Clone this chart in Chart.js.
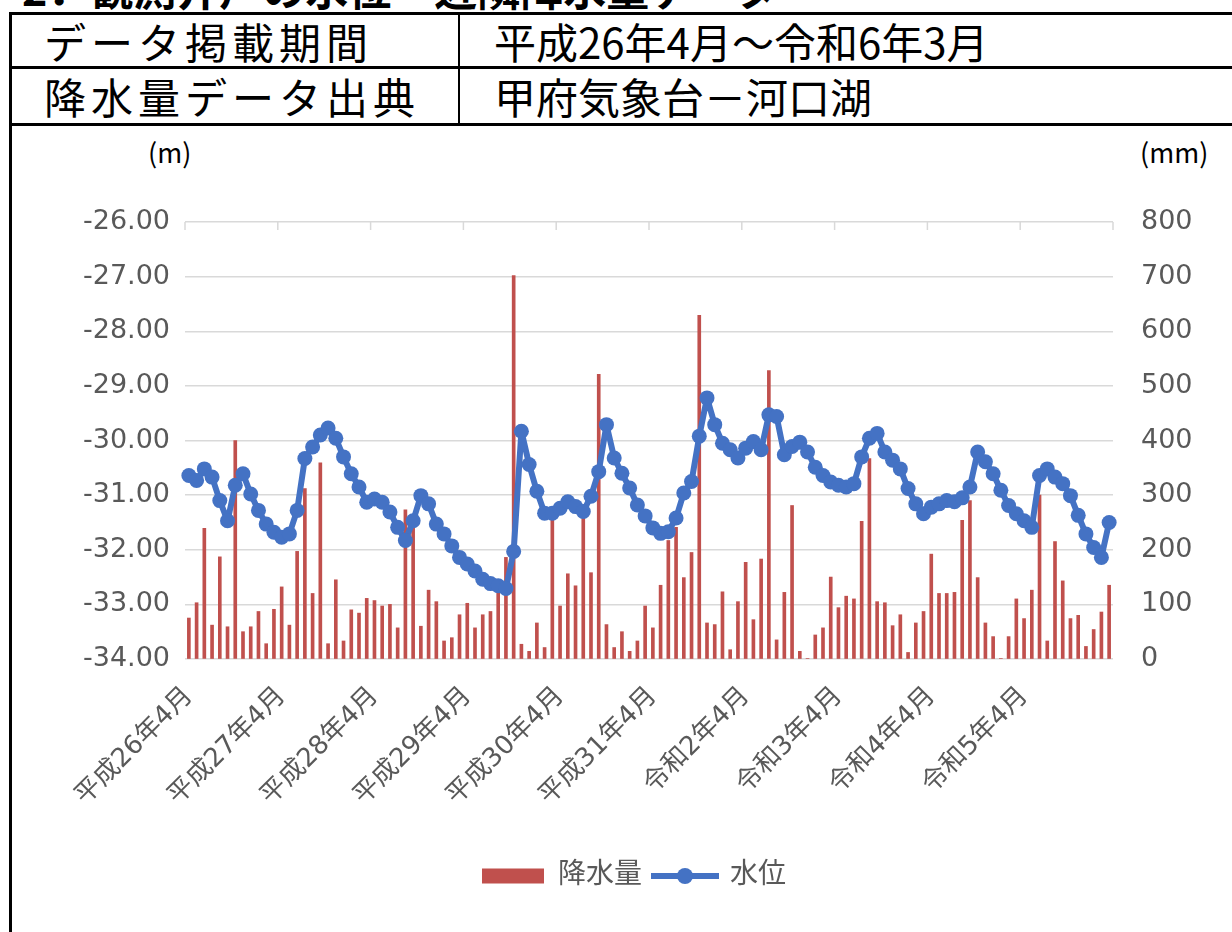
<!DOCTYPE html>
<html lang="ja">
<head>
<meta charset="utf-8">
<script src="https://cdn.jsdelivr.net/npm/chart.js@4.4.1/dist/chart.umd.min.js"></script>
<style>
  body { margin: 0; width: 1232px; height: 932px; overflow: hidden; background: #fff; position: relative;
         font-family: "Noto Sans CJK JP", sans-serif; }
  .abs { position: absolute; }
  .head { left: 22px; top: -34px; font-size: 43px; line-height: 43px; font-weight: bold; white-space: nowrap; }
  .frame { left: 9px; top: 12px; width: 1240px; height: 1000px; border: 3px solid #000; box-sizing: border-box; }
  .hline { left: 9px; width: 1240px; height: 3px; background: #000; }
  .vline { left: 458px; top: 12px; width: 2px; height: 114px; background: #000; }
  .cell { font-size: 42px; line-height: 50px; white-space: nowrap; color: #000; }
  .wide { letter-spacing: 5px; }
  .unit { font-size: 27px; line-height: 30px; color: #000; }
  #wrap { position: absolute; left: 0; top: 127px; width: 1232px; height: 805px; }
</style>
</head>
<body>
<div class="abs head">2．観測井戸の水位・近隣降水量データ</div>
<div class="abs frame"></div>
<div class="abs hline" style="top:66px"></div>
<div class="abs hline" style="top:123px"></div>
<div class="abs vline"></div>
<div class="abs cell wide" style="left:44px; top:16px">データ掲載期間</div>
<div class="abs cell" style="left:494px; top:16px">平成26年4月～令和6年3月</div>
<div class="abs cell wide" style="left:44px; top:71px">降水量データ出典</div>
<div class="abs cell" style="left:494px; top:71px">甲府気象台－河口湖</div>
<div class="abs unit" style="left:148px; top:137px">(m)</div>
<div class="abs unit" style="left:1140px; top:137px">(mm)</div>
<div id="wrap"><canvas id="myChart"></canvas></div>
<script>
  // 年度の区切り（横軸に出すラベル）
  const tickLabels = ["平成26年4月", "平成27年4月", "平成28年4月", "平成29年4月", "平成30年4月",
                      "平成31年4月", "令和2年4月", "令和3年4月", "令和4年4月", "令和5年4月"];

  // 月別降水量 (mm) 平成26年4月～令和6年3月
  const rain = [
    75, 103, 239, 62, 187, 59, 400, 50, 59, 87, 28, 91,
    132, 62, 197, 312, 120, 359, 28, 145, 33, 90, 84, 111,
    107, 97, 100, 57, 273, 250, 60, 126, 105, 33, 39, 81,
    102, 57, 81, 87, 121, 186, 702, 27, 14, 66, 21, 260,
    97, 156, 134, 265, 158, 521, 63, 21, 50, 14, 33, 97,
    57, 135, 217, 241, 149, 195, 629, 66, 63, 123, 17, 105,
    177, 72, 183, 528, 35, 122, 281, 14, 1, 44, 57, 150,
    94, 115, 110, 252, 367, 105, 103, 61, 81, 12, 66, 87,
    192, 120, 120, 122, 254, 290, 149, 66, 41, 1, 41, 110,
    74, 126, 300, 33, 215, 143, 74, 80, 23, 54, 86, 135
  ];

  // 月別水位 (m)
  const level = [
    -30.64, -30.73, -30.52, -30.67, -31.10, -31.47, -30.82, -30.61, -30.98, -31.28, -31.53, -31.68,
    -31.77, -31.71, -31.28, -30.33, -30.12, -29.90, -29.77, -29.96, -30.30, -30.61, -30.85, -31.13,
    -31.07, -31.13, -31.31, -31.59, -31.83, -31.47, -31.01, -31.16, -31.53, -31.71, -31.93, -32.14,
    -32.26, -32.39, -32.54, -32.62, -32.66, -32.71, -32.03, -29.83, -30.44, -30.93, -31.33, -31.33,
    -31.24, -31.12, -31.21, -31.30, -31.02, -30.57, -29.71, -30.32, -30.60, -30.87, -31.18, -31.38,
    -31.60, -31.70, -31.67, -31.42, -30.96, -30.75, -29.92, -29.22, -29.71, -30.05, -30.17, -30.32,
    -30.14, -30.02, -30.17, -29.53, -29.56, -30.26, -30.11, -30.03, -30.21, -30.49, -30.64, -30.76,
    -30.82, -30.85, -30.79, -30.30, -29.96, -29.87, -30.21, -30.36, -30.52, -30.88, -31.16, -31.34,
    -31.22, -31.16, -31.10, -31.12, -31.05, -30.85, -30.21, -30.39, -30.61, -30.91, -31.19, -31.34,
    -31.47, -31.59, -30.64, -30.52, -30.67, -30.79, -31.01, -31.37, -31.71, -31.96, -32.14, -31.50
  ];

  const months = [];
  tickLabels.forEach(t => {
    for (let m = 0; m < 12; m++) months.push(m === 0 ? t : t + "+" + m);
  });

  const RED = "#C0504D";
  const BLUE = "#4472C4";
  const GRID = "#D9D9D9";
  const TXT = "#595959";
  const FONT = "'DejaVu Sans', 'Noto Sans CJK JP', sans-serif";

  // 凡例用の線＋マーカー
  const lineIcon = document.createElement("canvas");
  lineIcon.width = 68; lineIcon.height = 20;
  const ic = lineIcon.getContext("2d");
  ic.strokeStyle = BLUE; ic.lineWidth = 6;
  ic.beginPath(); ic.moveTo(0, 10); ic.lineTo(68, 10); ic.stroke();
  ic.fillStyle = BLUE;
  ic.beginPath(); ic.arc(34, 10, 8, 0, Math.PI * 2); ic.fill();

  // 上端の年区切り目盛り
  const topTicks = {
    id: "topTicks",
    afterDraw(chart) {
      const x = chart.scales.x, y = chart.scales.y;
      const ctx = chart.ctx;
      const w = (x.right - x.left) / months.length;
      ctx.save();
      ctx.strokeStyle = GRID; ctx.lineWidth = 1.5;
      for (let i = 0; i <= months.length; i += 12) {
        const px = x.left + i * w;
        ctx.beginPath(); ctx.moveTo(px, y.top); ctx.lineTo(px, y.top + 8); ctx.stroke();
      }
      ctx.restore();
    }
  };

  const config = {
    type: "bar",
    data: {
      labels: months,
      datasets: [
        {
          type: "bar",
          label: "降水量",
          data: rain,
          yAxisID: "y1",
          backgroundColor: RED,
          borderWidth: 0,
          barThickness: 3,
          order: 2
        },
        {
          type: "line",
          label: "水位",
          data: level,
          yAxisID: "y",
          borderColor: BLUE,
          backgroundColor: BLUE,
          borderWidth: 6,
          borderJoinStyle: "round",
          borderCapStyle: "round",
          pointRadius: 7.5,
          pointHoverRadius: 7.5,
          pointBorderWidth: 0,
          tension: 0,
          order: 1
        }
      ]
    },
    options: {
      responsive: true,
      maintainAspectRatio: false,
      animation: false,
      layout: { padding: { left: 75, right: 39, top: 95, bottom: 32 } },
      plugins: {
        tooltip: { enabled: false },
        legend: {
          position: "bottom",
          labels: {
            color: TXT,
            font: { family: FONT, size: 28 },
            usePointStyle: true,
            pointStyleWidth: 62,
            boxHeight: 15,
            padding: 12,
            generateLabels(chart) {
              const items = Chart.defaults.plugins.legend.labels.generateLabels(chart);
              items.forEach(it => {
                it.pointStyle = it.datasetIndex === 0 ? "rect" : lineIcon;
                it.lineWidth = 0;
              });
              return items.sort((a, b) => a.datasetIndex - b.datasetIndex);
            }
          }
        }
      },
      scales: {
        x: {
          offset: true,
          grid: { display: false },
          border: { display: false },
          afterFit(s) { s.height = 191; },
          ticks: {
            autoSkip: false,
            maxRotation: 45,
            minRotation: 45,
            padding: 14,
            color: TXT,
            font: { family: FONT, size: 26 },
            callback: (v, i) => (i % 12 === 0 ? tickLabels[i / 12] : "")
          }
        },
        y: {
          position: "left",
          min: -34,
          max: -26,
          afterFit(s) { s.width = 110; },
          grid: { color: GRID, lineWidth: 1.5, drawTicks: false },
          border: { display: false },
          ticks: {
            stepSize: 1,
            padding: 15,
            color: TXT,
            font: { family: FONT, size: 27 },
            callback: v => v.toFixed(2)
          }
        },
        y1: {
          position: "right",
          min: 0,
          max: 800,
          afterFit(s) { s.width = 80; },
          grid: { drawOnChartArea: false, drawTicks: false },
          border: { display: false },
          ticks: {
            stepSize: 100,
            padding: 28,
            color: TXT,
            font: { family: FONT, size: 27 }
          }
        }
      }
    },
    plugins: [topTicks]
  };

  var myChart = new Chart(document.getElementById("myChart"), config);
</script>
</body>
</html>
